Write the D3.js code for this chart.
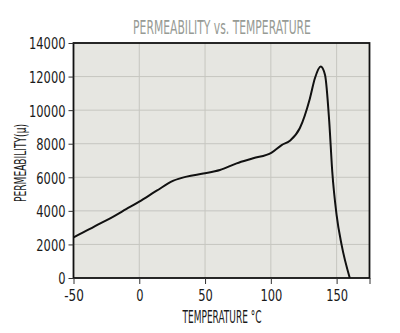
<!DOCTYPE html>
<html><head><meta charset="utf-8">
<script src="https://cdn.jsdelivr.net/npm/d3@7"></script>
<style>
body{margin:0;background:#fff;}
text{font-family:"Liberation Sans Narrow","DejaVu Sans Condensed","Roboto Condensed",sans-serif;}
</style></head>
<body><svg id="c" width="400" height="333"></svg>
<script>
const temps = [-50,-37.5,-30,-19.7,-10,0,13.2,26,36,48.6,61.3,74,86.6,100.6,108.2,114.5,122,129.7,133.5,137.9,141.2,144.4,146.7,150,153.8,160];
const perm  = [2420,2920,3240,3660,4100,4550,5200,5800,6040,6220,6430,6830,7130,7470,7920,8180,8920,10700,11900,12600,12100,9320,6330,3750,1970,0];
const xTicks = [-50,0,50,100,150,175];
const xTickLabels = ["-50","0","50","100","150",""];
const yTicks = [0,2000,4000,6000,8000,10000,12000,14000];

const svg = d3.select("#c");
const L=73.5, R=369.5, T=43, B=278;
const x = d3.scaleLinear().domain([-50,175]).range([L,R]);
const y = d3.scaleLinear().domain([0,14000]).range([B,T]);
const labW = s => s.replace(/-/g,"").length*7.3 + (s.includes("-")?5:0);

// horizontally squeeze a text to a target width around (cx, baseline)
function fitText(g, str, cx, cy, size, w, fill, rot){
  const t = g.append("text").attr("font-size",size).attr("fill",fill).attr("text-anchor","middle").text(str);
  const nat = t.node().getComputedTextLength();
  const sx = w/nat;
  t.attr("transform",`translate(${cx},${cy})${rot?` rotate(${rot})`:""} scale(${sx},1)`);
  return t;
}

svg.append("rect").attr("x",L).attr("y",T).attr("width",R-L).attr("height",B-T).attr("fill","#e6e6e1");

// grid
svg.append("g").selectAll("line").data(yTicks.slice(1,-1)).join("line")
  .attr("x1",L).attr("x2",R).attr("y1",d=>y(d)).attr("y2",d=>y(d))
  .attr("stroke","#c6c6c0").attr("stroke-width",1);
svg.append("g").selectAll("line").data([0,50,100,150]).join("line")
  .attr("y1",T).attr("y2",B).attr("x1",d=>x(d)).attr("x2",d=>x(d))
  .attr("stroke","#c6c6c0").attr("stroke-width",1);

// curve
const line = d3.line().x((d,i)=>x(temps[i])).y(d=>y(d)).curve(d3.curveMonotoneX);
svg.append("path").datum(perm).attr("d",line).attr("fill","none")
  .attr("stroke","#111").attr("stroke-width",2);

// border
svg.append("rect").attr("x",L).attr("y",T).attr("width",R-L).attr("height",B-T)
  .attr("fill","none").attr("stroke","#111").attr("stroke-width",1.8);

// axes
const ya = d3.axisLeft(y).tickValues(yTicks).tickSize(5).tickPadding(3).tickFormat(d3.format("d"));
const gy = svg.append("g").attr("transform",`translate(${L},0)`).call(ya);
gy.select(".domain").remove();
gy.selectAll("line").attr("stroke","#333");
gy.selectAll("text").attr("font-size",16.5).attr("fill","#1a1a1a").attr("dy","0.36em")
  .attr("textLength",function(){return labW(this.textContent);}).attr("lengthAdjust","spacingAndGlyphs");

const xa = d3.axisBottom(x).tickValues(xTicks).tickSize(6).tickPadding(5).tickFormat((d,i)=>xTickLabels[i]);
const gx = svg.append("g").attr("transform",`translate(0,${B})`).call(xa);
gx.select(".domain").remove();
gx.selectAll("line").attr("stroke","#333");
gx.selectAll("text").attr("font-size",16.5).attr("fill","#1a1a1a")
  .each(function(){ if(this.textContent) d3.select(this).attr("textLength",labW(this.textContent)).attr("lengthAdjust","spacingAndGlyphs"); });

// titles
const tg = svg.append("g");
fitText(tg, "PERMEABILITY vs. TEMPERATURE", 222, 34, 19, 178, "#979b95");
fitText(tg, "TEMPERATURE °C", 222, 323, 17, 79, "#1a1a1a");
fitText(tg, "PERMEABILITY(μ)", 26, 163, 16, 78, "#1a1a1a", -90);
</script></body></html>
